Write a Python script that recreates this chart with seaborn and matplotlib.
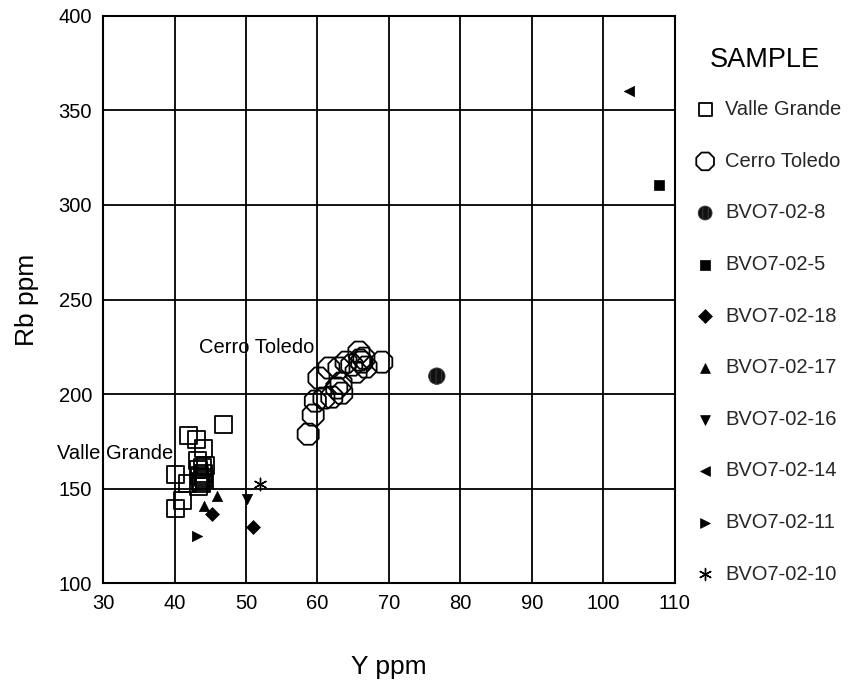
import matplotlib
matplotlib.use("Agg")
import matplotlib.pyplot as plt
import seaborn as sns
import pandas as pd

# ---- data ----
vg_y = [46.8, 42.0, 43.1, 44.1, 43.2, 40.2, 41.8, 41.1, 40.2,
        43.4, 43.8, 44.2, 43.5, 44.0, 43.3, 43.9, 44.3, 43.6, 44.1]
vg_rb = [184, 178, 176, 171, 165, 157.5, 153, 144, 139.5,
         151, 153, 155, 157, 158, 160, 161, 162, 154, 156]

ct_y = [58.7, 59.4, 59.7, 60.2, 60.9, 61.6, 62.0, 62.7, 63.3, 63.0,
        64.0, 64.8, 65.4, 65.8, 66.2, 66.8, 69.0, 65.9, 66.5, 63.4]
ct_rb = [178.8, 188.9, 196.3, 208.5, 197.9, 213.8, 198.4, 203.2, 205.8, 213.8,
         216.9, 215.3, 211.6, 222.2, 216.9, 214.3, 216.9, 218.0, 219.0, 200.5]

single_y = [76.7, 107.8, 45.3, 51.0, 46.0, 44.1, 50.1, 103.6, 43.2, 52.0]
single_rb = [209.5, 310.7, 136.5, 130.0, 146.0, 141.0, 144.4, 360.5, 124.9, 152.4]
single_group = ["BVO7-02-8", "BVO7-02-5", "BVO7-02-18", "BVO7-02-18", "BVO7-02-17",
                "BVO7-02-17", "BVO7-02-16", "BVO7-02-14", "BVO7-02-11", "BVO7-02-10"]

legend_order = ["Valle Grande", "Cerro Toledo", "BVO7-02-8", "BVO7-02-5", "BVO7-02-18",
                "BVO7-02-17", "BVO7-02-16", "BVO7-02-14", "BVO7-02-11", "BVO7-02-10"]

x_ticks = [30, 40, 50, 60, 70, 80, 90, 100, 110]
y_ticks = [100, 150, 200, 250, 300, 350, 400]

# ---- build table ----
df = pd.concat([
    pd.DataFrame({"Y": vg_y, "Rb": vg_rb, "SAMPLE": "Valle Grande"}),
    pd.DataFrame({"Y": ct_y, "Rb": ct_rb, "SAMPLE": "Cerro Toledo"}),
    pd.DataFrame({"Y": single_y, "Rb": single_rb, "SAMPLE": single_group}),
], ignore_index=True)

style = {
    "Valle Grande": dict(marker="s", s=150, facecolor="none", edgecolor="black", linewidth=1.3, leg=90),
    "Cerro Toledo": dict(marker="8", s=270, facecolor="none", edgecolor="black", linewidth=1.3, leg=190),
    "BVO7-02-8": dict(marker="o", s=140, facecolor="#111111", edgecolor="#3c3c3c", linewidth=0.6, leg=100),
    "BVO7-02-5": dict(marker="s", s=55, facecolor="black", edgecolor="black", linewidth=0.5, leg=55),
    "BVO7-02-18": dict(marker="D", s=50, facecolor="black", edgecolor="black", linewidth=0.5, leg=50),
    "BVO7-02-17": dict(marker="^", s=55, facecolor="black", edgecolor="black", linewidth=0.5, leg=50),
    "BVO7-02-16": dict(marker="v", s=55, facecolor="black", edgecolor="black", linewidth=0.5, leg=50),
    "BVO7-02-14": dict(marker="<", s=55, facecolor="black", edgecolor="black", linewidth=0.5, leg=50),
    "BVO7-02-11": dict(marker=">", s=55, facecolor="black", edgecolor="black", linewidth=0.5, leg=50),
    "BVO7-02-10": dict(marker=(6, 2, 0), s=80, facecolor="black", edgecolor="black", linewidth=1.0, leg=75),
}

sns.set_theme(style="white")
plt.rcParams["font.family"] = ["Liberation Sans", "DejaVu Sans"]
plt.rcParams["hatch.linewidth"] = 0.7

fig = plt.figure(figsize=(8.52, 6.87), dpi=100)
ax = fig.add_axes([0.121, 0.151, 0.671, 0.826])

for name in legend_order:
    sub = df[df["SAMPLE"] == name]
    st = style[name]
    kw = {}
    if name == "BVO7-02-8":
        kw["hatch"] = "|||"
    sns.scatterplot(data=sub, x="Y", y="Rb", ax=ax, marker=st["marker"], s=st["s"],
                    facecolor=st["facecolor"], edgecolor=st["edgecolor"],
                    linewidth=st["linewidth"], label=name, zorder=3, **kw)

ax.set_xlim(30, 110)
ax.set_ylim(100, 400)
ax.set_xticks(x_ticks)
ax.set_yticks(y_ticks)
ax.grid(True, color="black", linewidth=1.3)
ax.set_axisbelow(True)
for sp in ax.spines.values():
    sp.set_color("black")
    sp.set_linewidth(1.5)
ax.tick_params(axis="both", direction="out", length=3, width=3, color="black",
               labelsize=14.5, labelcolor="black", pad=5)

ax.set_xlabel("Y ppm", fontsize=19, color="black", labelpad=30)
ax.set_ylabel("Rb ppm", fontsize=19, color="black", labelpad=14)

ax.text(43.4, 224.9, "Cerro Toledo", fontsize=14.5, color="black", va="center", ha="left")
ax.text(23.6, 168.8, "Valle Grande", fontsize=14.5, color="black", va="center", ha="left",
        clip_on=False)

if ax.legend_ is not None:
    ax.legend_.remove()
handles, labels = ax.get_legend_handles_labels()
leg = fig.legend(handles, labels, loc="upper left",
                 bbox_to_anchor=(687 / 852, 1 - 92 / 687), frameon=False, fontsize=14.5,
                 labelspacing=1.62, handletextpad=0.5, borderaxespad=0,
                 handlelength=1.0)
for h, name in zip(leg.legend_handles, labels):
    h.set_sizes([style[name]["leg"]])

fig.text(710 / 852, 1 - 60 / 687, "SAMPLE", fontsize=19.5, color="black", ha="left", va="center")

fig.savefig("out.png", dpi=100)
